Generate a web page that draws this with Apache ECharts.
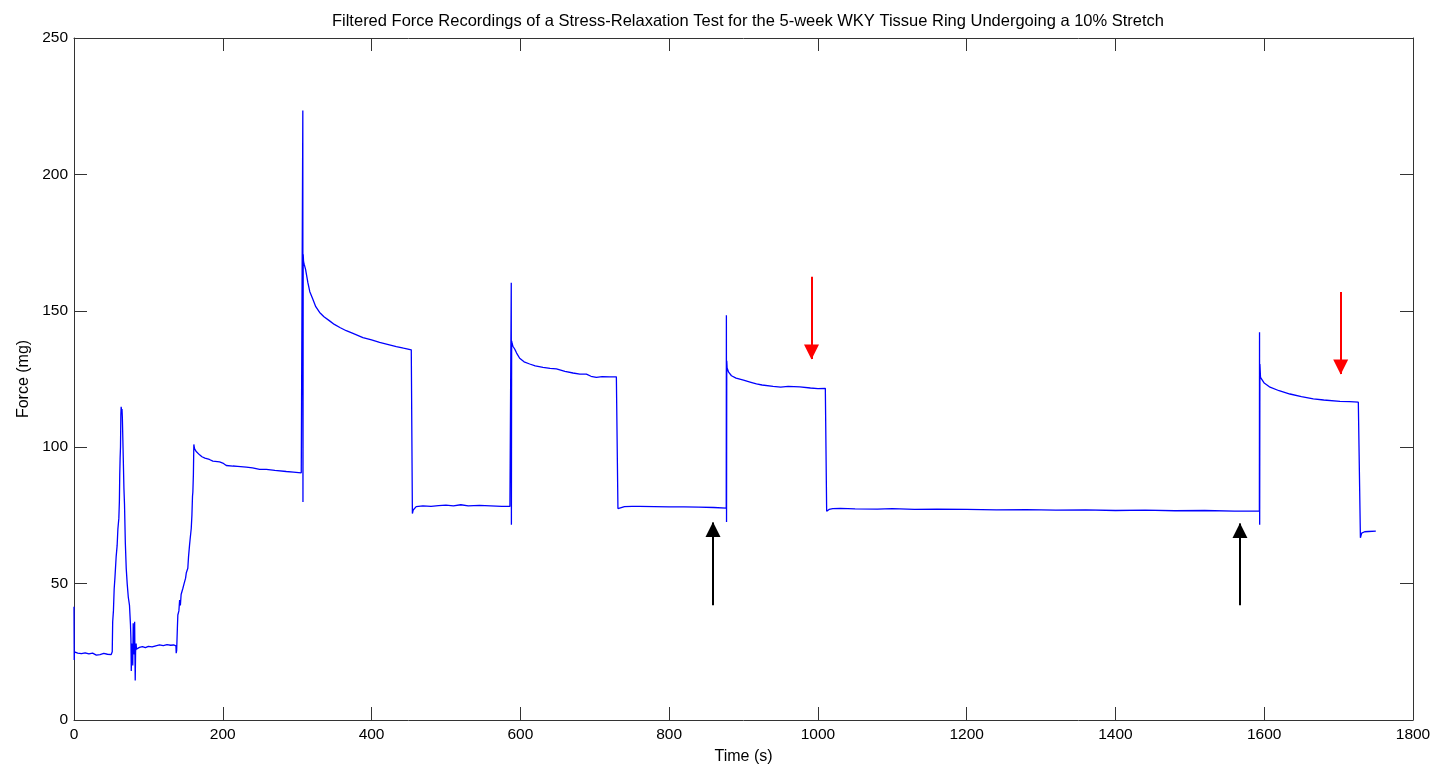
<!DOCTYPE html>
<html>
<head>
<meta charset="utf-8">
<script src="https://cdn.jsdelivr.net/npm/echarts@6/dist/echarts.min.js"></script>
<style>
  html, body { margin: 0; padding: 0; background: #fff; }
  #chart { width: 1436px; height: 770px; }
</style>
</head>
<body>
<div id="chart"></div>
<script>
// ---- Data ----
const timeS = [
  0, 0.3, 0.6, 1, 5, 10, 15, 20, 25, 30, 35, 40, 45, 50, 51,
  51.4, 52, 53, 54, 55, 56.7, 58, 59, 60.3, 61, 61.5, 62, 62.5, 63, 63.4, 64, 64.5, 65, 65.7,
  66.3, 67.1, 67.9, 69, 70.2, 71.5, 73, 74.6, 75.9, 76.5, 77, 77.5, 78, 78.5, 79, 79.6, 80,
  80.5, 81, 81.5, 82, 82.3, 82.8, 83.5, 84, 88, 92, 96, 100, 105, 110, 115, 120, 125, 130, 134, 137,
  137.4, 138, 139, 139.6, 141, 142, 143, 144, 146.3, 148, 150, 151, 153, 154, 155.3, 156, 157.6,
  158.5, 159.3, 159.8, 160.5, 161.1, 162, 164, 166, 168.8, 172, 176, 182, 186.7, 195.7, 200, 204.7,
  213.6, 220, 231.6, 240, 249.5, 258.5, 270, 285.4, 295, 305.5, 307.4,
  307.6, 307.8, 308.1, 308.6, 309.5, 311.3, 314.4, 317, 321.1, 325, 330.2, 336, 343.6, 350, 358,
  366, 375, 388.4, 400, 410.8, 420, 433.3, 443, 453.4, 454.6,
  454.9, 456, 460, 469, 480, 490, 500, 510, 520, 530, 545, 560, 575, 586, 587.6,
  587.8, 588.0, 588.3, 589, 590, 592.4, 595, 599.1, 605, 612.6, 620, 630.5, 640, 648.5, 660,
  670.8, 680, 688.8, 695, 702.2, 710, 720, 729.1, 730.8,
  731.2, 733, 740, 750, 760, 780, 800, 820, 840, 860, 876.8,
  877.0, 877.2, 877.5, 878, 880, 883.8, 890, 900, 910, 917.4, 925, 939.8, 950, 960, 975.7,
  990, 1000, 1010, 1011.4,
  1011.8, 1015, 1020, 1030, 1050, 1080, 1100, 1130, 1160, 1200, 1240, 1280, 1320, 1360, 1400,
  1440, 1480, 1520, 1560, 1593.5,
  1593.7, 1593.9, 1594.2, 1595, 1600, 1607.8, 1620, 1634.6, 1650, 1666, 1680, 1701.8, 1715,
  1726.5, 1729,
  1729.3, 1731, 1735, 1740, 1750
];
const forceMg = [
  41.5, 22, 25, 24.5, 24.5, 24.3, 24.6, 24.2, 24.5, 23.8, 24.0, 24.4, 24.1, 24.0, 24.2,
  25, 36, 40, 48, 52, 60, 64, 70, 74, 80, 90, 96, 100, 112, 114.8, 113, 114, 111, 111.6,
  95, 85, 79, 65, 55.6, 50, 45, 42, 35, 30, 18, 28, 22, 26, 20, 35.5, 25,
  28, 24, 36, 22, 14.5, 25, 28, 26, 26.6, 26.9, 26.5, 27.0, 26.8, 27.2, 27.5, 27.3, 27.6, 27.4, 27.5, 27.2,
  24.5, 25.5, 34, 38.5, 40, 44, 42, 46, 48.2, 50, 52, 54, 55.6, 60, 64, 66, 70.2,
  75, 82, 83.6, 90, 101, 99.5, 98.5, 98, 97.2, 96.5, 96, 95.5, 94.9, 94.6, 94.2, 93.3,
  93.1, 93, 92.7, 92.4, 91.9, 91.9, 91.5, 91.1, 90.9, 90.6, 90.5,
  223.4, 79.9, 170.7, 168, 167, 165.2, 160.3, 157, 154.2, 151.5, 149.4, 147.8, 146.3, 145, 143.8,
  142.7, 141.7, 140.2, 139.3, 138.4, 137.8, 136.9, 136.3, 135.7, 135.5,
  75.7, 77, 78.2, 78.5, 78.3, 78.6, 78.8, 78.5, 78.9, 78.5, 78.7, 78.5, 78.3, 78.3, 78.3,
  160.3, 71.6, 139, 138, 137, 136, 134.5, 132.6, 131.3, 130.5, 129.8, 129.3, 128.9, 128.7, 127.8,
  127.2, 126.8, 126.8, 126.0, 125.6, 125.9, 125.8, 125.8, 125.6,
  77.5, 78, 78.2, 78.3, 78.3, 78.2, 78.1, 78.1, 78, 77.9, 77.7,
  148.4, 72.6, 131.7, 129, 127.5, 126.2, 125.3, 124.6, 123.8, 123.2, 122.8, 122.3, 122.0, 122.3, 122.1,
  121.7, 121.5, 121.6, 121.3,
  76.5, 77.2, 77.5, 77.6, 77.4, 77.3, 77.5, 77.2, 77.3, 77.2, 77.0, 77.1, 76.9, 77.0, 76.8,
  76.9, 76.7, 76.8, 76.6, 76.6,
  142.1, 71.6, 130.5, 125.6, 123.5, 122, 120.7, 119.5, 118.5, 117.7, 117.3, 116.8, 116.7,
  116.5, 116.3,
  66.8, 68.5, 69, 69.1, 69.2
];
// Annotation arrows: [time, startForce, tipForce]
const blackArrows = [[859, 42.1, 72.4], [1567.4, 42.1, 72.0]];
const redArrows = [[991.4, 162.5, 132.3], [1702.8, 156.9, 126.8]];
const xTicks = { min: 0, max: 1800, interval: 200 };
const yTicks = { min: 0, max: 250, interval: 50 };

const titleText = 'Filtered Force Recordings of a Stress-Relaxation Test for the 5-week WKY Tissue Ring Undergoing a 10% Stretch';

// ---- Chart ----
const FONT = '"Liberation Sans", Arial, sans-serif';
const chart = echarts.init(document.getElementById('chart'), null, { renderer: 'canvas' });
const series = timeS.map((t, i) => [t, forceMg[i]]);

function arrowItems(list, color) {
  return list.map(a => [
    { coord: [a[0], a[1]], symbol: 'none', lineStyle: { color: color, width: 2, type: 'solid' } },
    { coord: [a[0], a[2]], symbol: 'triangle', symbolSize: [15, 15], symbolOffset: [0, 7] }
  ]);
}

const axisLineStyle = { show: true, onZero: false, lineStyle: { color: '#333', width: 1 } };
const tickStyle = { show: true, inside: true, length: 13, lineStyle: { color: '#333', width: 1 } };
const plain = v => String(v);

chart.setOption({
  animation: false,
  backgroundColor: '#fff',
  title: {
    text: titleText,
    left: 743, top: 8, textAlign: 'center',
    textStyle: { fontFamily: FONT, fontSize: 16.5, fontWeight: 'normal', color: '#000' }
  },
  grid: { left: 74, right: 23, top: 38, bottom: 47 },
  xAxis: [
    {
      type: 'value', min: xTicks.min, max: xTicks.max, interval: xTicks.interval,
      name: 'Time (s)', nameLocation: 'middle', nameGap: 29,
      nameTextStyle: { fontFamily: FONT, fontSize: 16, color: '#000' },
      axisLine: axisLineStyle, axisTick: tickStyle,
      axisLabel: { fontFamily: FONT, fontSize: 15.5, color: '#000', margin: 7, formatter: plain },
      splitLine: { show: false }
    },
    {
      type: 'value', position: 'top', min: xTicks.min, max: xTicks.max, interval: xTicks.interval,
      axisLine: axisLineStyle, axisTick: tickStyle, axisLabel: { show: false }, splitLine: { show: false }
    }
  ],
  yAxis: [
    {
      type: 'value', min: yTicks.min, max: yTicks.max, interval: yTicks.interval,
      name: 'Force (mg)', nameLocation: 'middle', nameGap: 32,
      nameTextStyle: { fontFamily: FONT, fontSize: 16, color: '#000' },
      axisLine: axisLineStyle, axisTick: tickStyle,
      axisLabel: { fontFamily: FONT, fontSize: 15.5, color: '#000', margin: 6, formatter: plain },
      splitLine: { show: false }
    },
    {
      type: 'value', position: 'right', min: yTicks.min, max: yTicks.max, interval: yTicks.interval,
      axisLine: axisLineStyle, axisTick: tickStyle, axisLabel: { show: false }, splitLine: { show: false }
    }
  ],
  series: [
    {
      type: 'line', data: series, showSymbol: false, symbol: 'none', sampling: null,
      lineStyle: { color: '#0000ff', width: 1.3 }, z: 3,
      markLine: {
        silent: true, animation: false, precision: 3,
        label: { show: false },
        emphasis: { disabled: true },
        data: arrowItems(blackArrows, '#000000').concat(arrowItems(redArrows, '#ff0000'))
      }
    }
  ]
});
</script>
</body>
</html>
